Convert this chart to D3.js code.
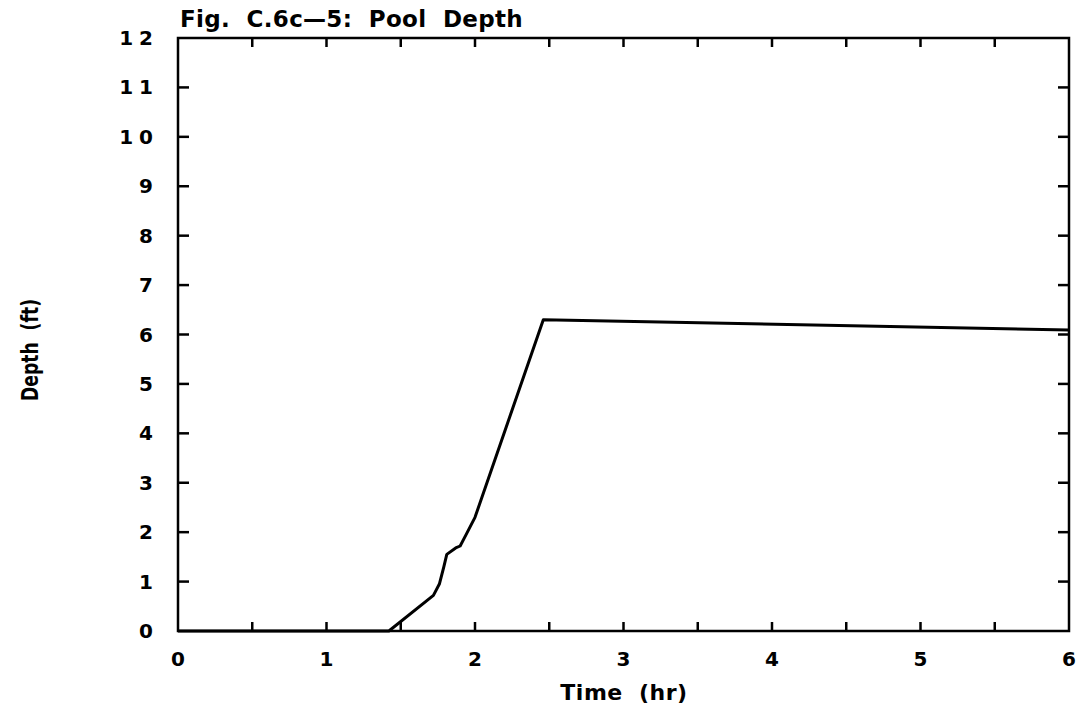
<!DOCTYPE html>
<html><head><meta charset="utf-8">
<script src="https://cdn.jsdelivr.net/npm/d3@7/dist/d3.min.js"></script>
<style>body{margin:0;background:#fff;} text{fill:#000;}</style>
</head><body>
<svg id="c" width="1082" height="719"></svg>
<script>
const timeHr = [0, 1.42, 1.72, 1.76, 1.79, 1.81, 1.87, 1.90, 1.94, 2.00, 2.46, 6.0];
const depthFt = [0, 0, 0.72, 0.95, 1.3, 1.55, 1.68, 1.72, 1.95, 2.3, 6.3, 6.09];
const xTickLabels = [0, 1, 2, 3, 4, 5, 6];
const yTickLabels = [0,1,2,3,4,5,6,7,8,9,10,11,12];
const xMinorTicks = [0.5,1,1.5,2,2.5,3,3.5,4,4.5,5,5.5];

const svg = d3.select("#c");
const L=178, R=1069, T=38, B=631;
const x = d3.scaleLinear().domain([0,6]).range([L,R]);
const y = d3.scaleLinear().domain([0,12]).range([B,T]);
const font = "'DejaVu Sans', sans-serif";

// frame
svg.append("rect").attr("x",L).attr("y",T).attr("width",R-L).attr("height",B-T)
  .attr("fill","none").attr("stroke","#000").attr("stroke-width",2.5);

// ticks (inward)
const g = svg.append("g").attr("stroke","#000").attr("stroke-width",2.5);
xMinorTicks.forEach(v=>{
  g.append("line").attr("x1",x(v)).attr("x2",x(v)).attr("y1",B).attr("y2",B-9);
  g.append("line").attr("x1",x(v)).attr("x2",x(v)).attr("y1",T).attr("y2",T+9);
});
yTickLabels.slice(1,12).forEach(v=>{
  g.append("line").attr("x1",L).attr("x2",L+11).attr("y1",y(v)).attr("y2",y(v));
  g.append("line").attr("x1",R).attr("x2",R-11).attr("y1",y(v)).attr("y2",y(v));
});

// tick labels
svg.append("g").selectAll("text").data(xTickLabels).join("text")
  .attr("x",d=>x(d)).attr("y",666).attr("text-anchor","middle")
  .attr("font-family",font).attr("font-weight","bold").attr("font-size",20)
  .text(d=>d);
svg.append("g").selectAll("text").data(yTickLabels).join("text")
  .attr("x",153).attr("y",d=>y(d)+7).attr("text-anchor","end")
  .attr("font-family",font).attr("font-weight","bold").attr("font-size",20)
  .attr("letter-spacing",d=>d>=10?"6px":"0px")
  .attr("dx",d=>d>=10?6:0)
  .text(d=>d);

// title
svg.append("text").attr("x",180).attr("y",27).attr("font-family",font)
  .attr("font-size",23).attr("font-weight","bold").attr("letter-spacing","0.3px")
  .style("white-space","pre").text("Fig.  C.6c\u20145:  Pool  Depth");

// axis titles
svg.append("text").attr("x",624).attr("y",700).attr("text-anchor","middle")
  .attr("font-family",font).attr("font-size",22).attr("font-weight","bold")
  .attr("letter-spacing","0.5px")
  .style("white-space","pre").text("Time  (hr)");
svg.append("text").attr("transform","translate(38,350) rotate(-90) scale(0.86,1.12)").attr("text-anchor","middle")
  .attr("font-family",font).attr("font-size",20).attr("font-weight","bold")
  .style("white-space","pre").text("Depth  (ft)");

// data line
const line = d3.line().x((d,i)=>x(timeHr[i])).y((d,i)=>y(depthFt[i]));
svg.append("path").datum(depthFt).attr("d",line).attr("fill","none")
  .attr("stroke","#000").attr("stroke-width",3).attr("stroke-linejoin","round");
</script>
</body></html>
